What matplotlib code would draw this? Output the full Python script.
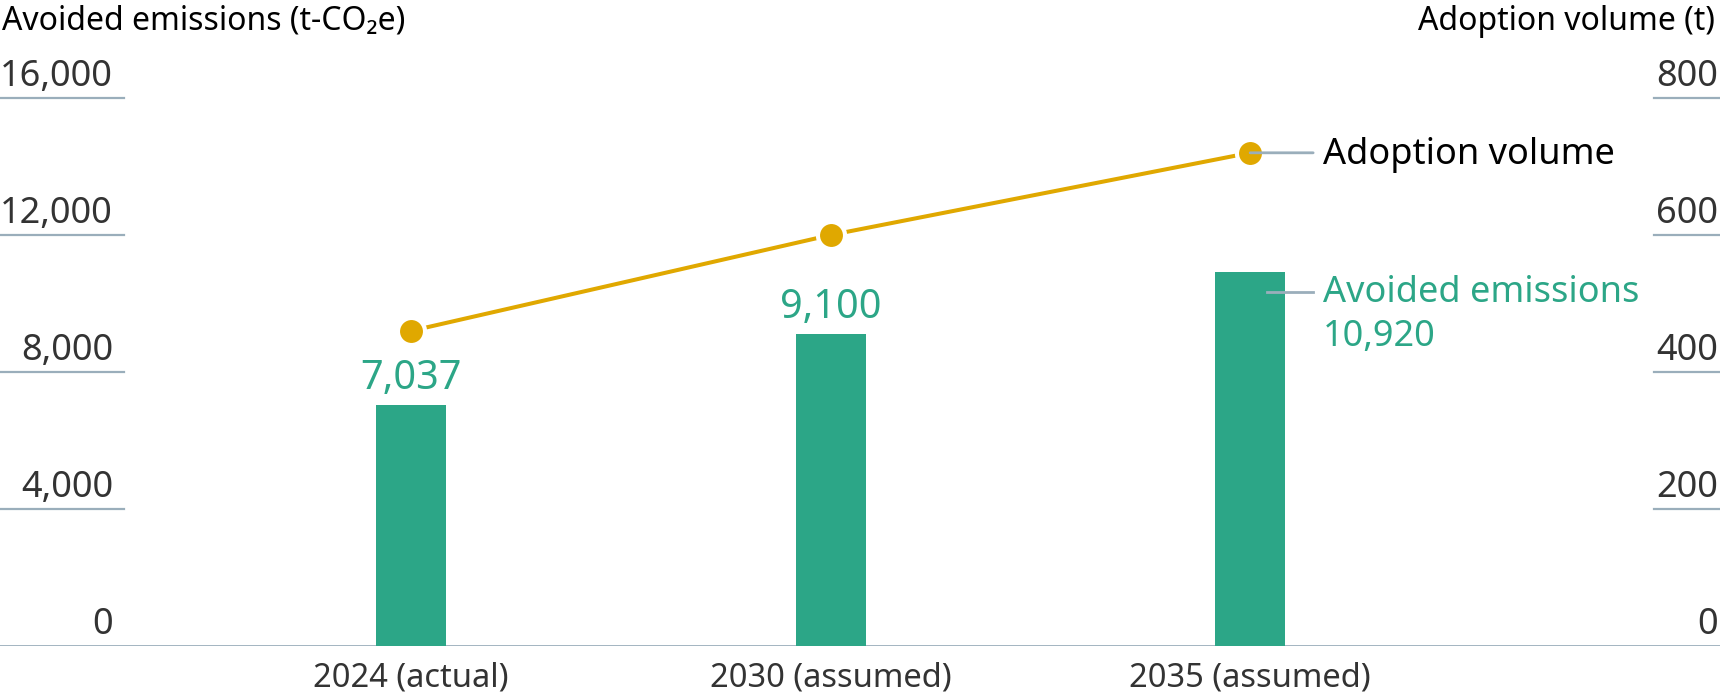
import numpy as np
import matplotlib
matplotlib.use("Agg")
import matplotlib.pyplot as plt
import matplotlib.transforms as mtransforms

plt.rcParams['font.family'] = ['Noto Sans', 'DejaVu Sans']

# data
categories = ['2024 (actual)', '2030 (assumed)', '2035 (assumed)']
emissions = [7037, 9100, 10920]
adoption = [460, 600, 720]
left_ticks = [0, 4000, 8000, 12000, 16000]
right_ticks = [0, 200, 400, 600, 800]

green = '#2ca687'
gold = '#e0a800'
grid_col = '#9aaebb'
tick_col = '#333333'

fig = plt.figure(figsize=(17.2, 7), dpi=100)
ax = fig.add_axes([0, 0.0771, 1, 0.7829])
ax2 = ax.twinx()

x = np.arange(len(categories))

# bars for avoided emissions
ax.bar(x, emissions, width=0.167, color=green, zorder=3)
ax.set_xlim(-0.98, 3.12)
ax.set_ylim(0, 16000)
ax2.set_ylim(0, 800)

for a in (ax, ax2):
    for s in a.spines.values():
        s.set_visible(False)
    a.set_yticks([])

ax.set_xticks(x)
ax.set_xticklabels(categories, fontsize=23.5, color=tick_col)
ax.tick_params(axis='x', length=0, pad=11)

# baseline across the whole width
ax.axhline(0, color=grid_col, lw=2, zorder=2)

# short grid stubs under the tick labels, left and right
trans = mtransforms.blended_transform_factory(ax.transAxes, ax.transData)
trans2 = mtransforms.blended_transform_factory(ax2.transAxes, ax2.transData)
for t in left_ticks:
    if t > 0:
        ax.plot([0, 124 / 1720], [t, t], color=grid_col, lw=1.6, transform=trans, clip_on=False)
    ax.annotate(f'{t:,}', xy=(113 / 1720, t), xycoords=trans, xytext=(0, 12),
                textcoords='offset pixels', ha='right', va='baseline',
                fontsize=26, color=tick_col)
for t in right_ticks:
    if t > 0:
        ax2.plot([1654 / 1720, 1], [t, t], color=grid_col, lw=1.6, transform=trans2, clip_on=False)
    ax2.annotate(f'{t:,}', xy=(1718 / 1720, t), xycoords=trans2, xytext=(0, 12),
                 textcoords='offset pixels', ha='right', va='baseline',
                 fontsize=26, color=tick_col)

# adoption volume line
ax2.plot(x, adoption, color=gold, lw=2.9, marker='o', markersize=19.5,
         markerfacecolor=gold, markeredgecolor='white', markeredgewidth=3, zorder=4)

# value labels over first two bars
for i in range(len(emissions) - 1):
    ax.annotate(f'{emissions[i]:,}', xy=(x[i], emissions[i]), xytext=(0, 16),
                textcoords='offset pixels', ha='center', va='baseline',
                fontsize=28.5, color=green)

# callout for the line, leader starts at the marker centre
ax2.annotate('', xy=(x[-1], adoption[-1]), xytext=(63, 0), textcoords='offset pixels',
             arrowprops=dict(arrowstyle='-', color=grid_col, lw=2, shrinkA=0, shrinkB=0),
             zorder=5)
ax2.annotate('Adoption volume', xy=(x[-1], adoption[-1]), xytext=(73, -11),
             textcoords='offset pixels', ha='left', va='baseline', fontsize=26, color='black')

# leader line inside the last bar
ax.plot([x[-1] + 17 / 419.5, x[-1] + 63 / 419.5], [emissions[-1] - 20 * 16000 / 548] * 2,
        color=grid_col, lw=2, zorder=5, clip_on=False)
ax.annotate('Avoided emissions', xy=(x[-1], emissions[-1]), xytext=(73, -30),
            textcoords='offset pixels', ha='left', va='baseline', fontsize=26, color=green)
ax.annotate(f'{emissions[-1]:,}', xy=(x[-1], emissions[-1]), xytext=(73, -74),
            textcoords='offset pixels', ha='left', va='baseline', fontsize=26, color=green)

# axis titles
fig.text(0.001, 1 - 30 / 700, 'Avoided emissions (t-CO₂e)', ha='left', va='baseline',
         fontsize=23, color='black')
fig.text(1715 / 1720, 1 - 30 / 700, 'Adoption volume (t)', ha='right', va='baseline',
         fontsize=23, color='black')

fig.savefig('out.png', dpi=100)
